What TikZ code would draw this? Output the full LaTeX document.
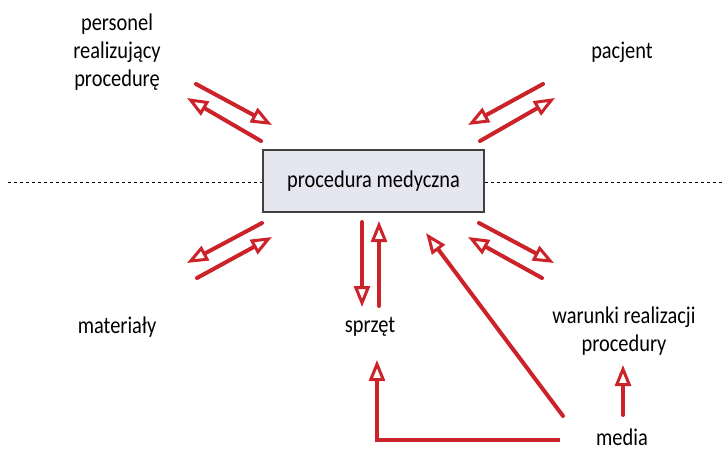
\documentclass[tikz,border=0pt]{standalone}
\usepackage{fontspec}
\setmainfont{Carlito}[FakeStretch=0.85]
\usetikzlibrary{arrows.meta,positioning}

\definecolor{arrred}{RGB}{204,34,41}
\definecolor{boxfill}{RGB}{230,230,240}

\tikzset{
    lbl/.style={align=center, font=\fontsize{24}{28}\selectfont, text=black},
    flow/.style={draw=arrred, line width=4pt, line cap=round,
        -{Triangle[open, length=21pt, width=16pt, line width=3pt, line join=miter]}},
    axis/.style={draw, thin, dashed, dash pattern=on 3pt off 3pt}
}

\begin{document}
\begin{tikzpicture}[x=1pt, y=-1pt]

    \useasboundingbox (0,0) rectangle (726,450);

    % central box and horizontal line
    \node[draw=black!75, line width=1.2pt, fill=boxfill, minimum width=221pt, minimum height=62pt,
        lbl] (proc) at (373.5,181) {procedura medyczna};
    \coordinate (axl) at (8,182);
    \coordinate (axr) at (722,182);
    \path[axis] (axl) -- (axl -| proc.west);
    \path[axis] (proc.east |- axr) -- (axr);

    % labels
    \node[lbl] (pers) at (117,52) {personel\\realizujący\\procedurę};
    \node[lbl] (pac) at (622,52) {pacjent};
    \node[lbl] (mat) at (117,327) {materiały};
    \node[lbl] (sprz) at (370,327) {sprzęt};
    \node[lbl] (war) at (624,331) {warunki realizacji\\procedury};
    \node[lbl] (med) at (622,437) {media};

    % arrow end points
    \foreach \n/\x/\y in {tl1/196/84, tl2/272/125, tl3/261/141, tl4/187/98,
                          tr1/543/84, tr2/468/125, tr3/480/141, tr4/555/98,
                          bl1/262/223, bl2/187/263, bl3/197/278, bl4/272/237,
                          br1/479/223, br2/554/263, br3/542/278, br4/468/237,
                          md1/362/222, md2/362/307, mu1/379/306, mu2/379/221,
                          dg1/563/416, dg2/426/233,
                          mp1/560/440, mp2/377/440, mp3/377/360,
                          wu1/623/415, wu2/623/365} {
        \coordinate (\n) at (\x,\y);
    }

    % arrows
    \foreach \s/\e in {tl1/tl2, tl3/tl4, tr1/tr2, tr3/tr4,
                       bl1/bl2, bl3/bl4, br1/br2, br3/br4,
                       md1/md2, mu1/mu2, dg1/dg2, wu1/wu2} {
        \draw[flow] (\s) -- (\e);
    }
    \draw[flow, line cap=butt] (mp1) -- (mp2) -- (mp3);

\end{tikzpicture}
\end{document}
